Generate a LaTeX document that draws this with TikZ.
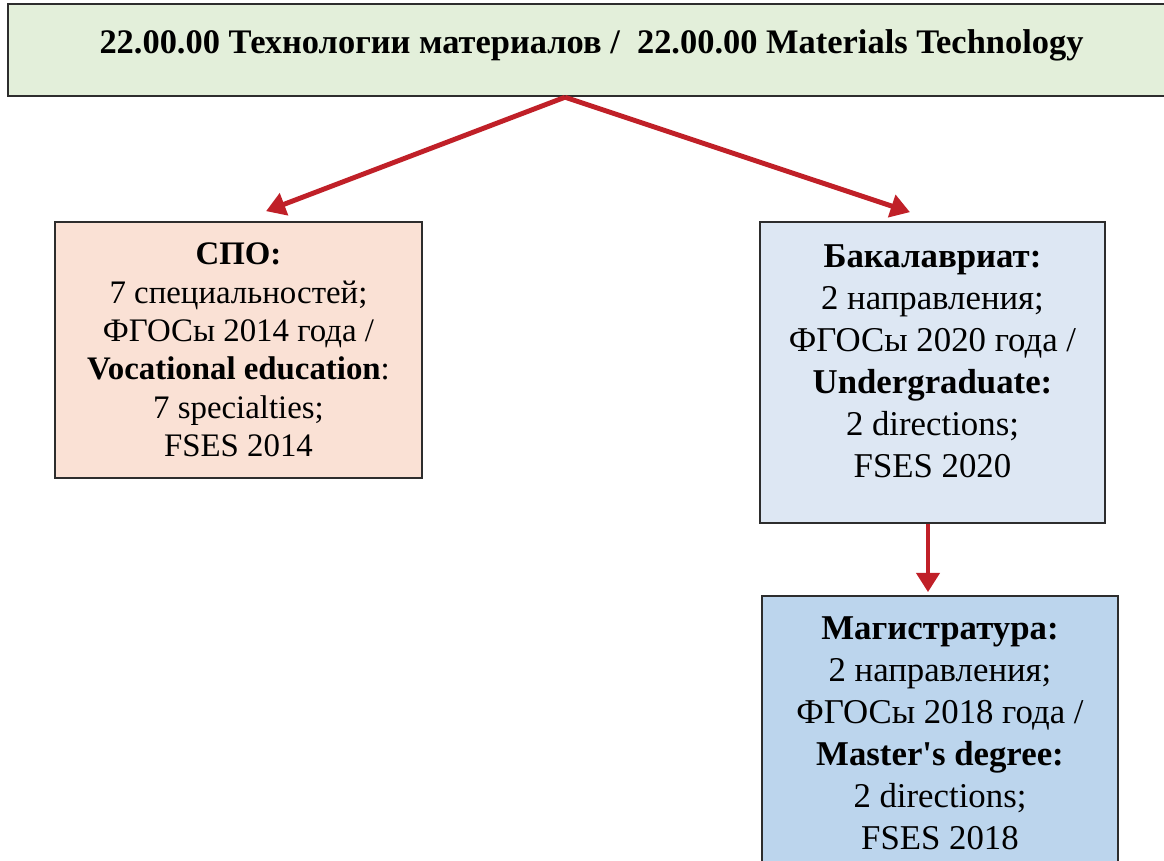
\documentclass[tikz,border=0pt]{standalone}
\usepackage{fontspec}
\setmainfont{LiberationSerif-Regular.ttf}[BoldFont=LiberationSerif-Bold.ttf]
\usetikzlibrary{arrows.meta}
\definecolor{topgreen}{RGB}{227,239,218}
\definecolor{spopeach}{RGB}{250,225,213}
\definecolor{bacblue}{RGB}{221,231,243}
\definecolor{magblue}{RGB}{188,213,237}
\definecolor{arrowred}{RGB}{192,32,40}
\definecolor{boxline}{RGB}{45,45,45}

\begin{document}
\begin{tikzpicture}[x=0.02cm,y=-0.02cm,
    box/.style={draw=boxline, line width=1pt, align=center, inner sep=0pt},
    link/.style={arrowred, line width=2.8pt, -{Triangle[length=11pt,width=13pt]}}]
    % Area of the picture
    \useasboundingbox (0,0) rectangle (1164,860);

    % Top box (field of study)
    \node[box, line width=1.4pt, fill=topgreen, minimum width=23.34cm, minimum height=1.84cm,
          text depth=10pt, font=\fontsize{19.6}{23}\selectfont\bfseries] (field) at (591.5,50)
        {22.00.00 Технологии материалов /\ \ 22.00.00 Materials Technology};

    % Vocational education
    \node[box, fill=spopeach, minimum width=7.34cm, minimum height=5.12cm,
          font=\fontsize{18.7}{21.9}\selectfont] (spo) at (238.5,350)
        {\textbf{СПО:}\\ 7 специальностей;\\ ФГОСы 2014 года /\\ \textbf{Vocational education}:\\ 7 specialties;\\ FSES 2014};

    % Undergraduate
    \node[box, fill=bacblue, minimum width=6.9cm, minimum height=6.02cm, text depth=12.5pt,
          font=\fontsize{19.8}{23.9}\selectfont] (bac) at (932.5,372.5)
        {\textbf{Бакалавриат:}\\ 2 направления;\\ ФГОСы 2020 года /\\ \textbf{Undergraduate:}\\ 2 directions;\\ FSES 2020};

    % Master's degree
    \node[box, fill=magblue, minimum width=7.12cm, minimum height=5.48cm,
          font=\fontsize{19.8}{23.9}\selectfont] (mag) at (940,733)
        {\textbf{Магистратура:}\\ 2 направления;\\ ФГОСы 2018 года /\\ \textbf{Master\textquotesingle s degree:}\\ 2 directions;\\ FSES 2018};

    % Arrows
    \coordinate (split) at ([xshift=-0.53cm]field.south);
    \draw[link] (split) -- ([xshift=0.55cm,yshift=0.2cm]spo.north);
    \draw[link] (split) -- ([xshift=-0.45cm,yshift=0.18cm]bac.north);
    \draw[link] ([xshift=-0.09cm]bac.south) -- ([xshift=-0.09cm,yshift=0.06cm]bac.south |- mag.north);
\end{tikzpicture}
\end{document}
